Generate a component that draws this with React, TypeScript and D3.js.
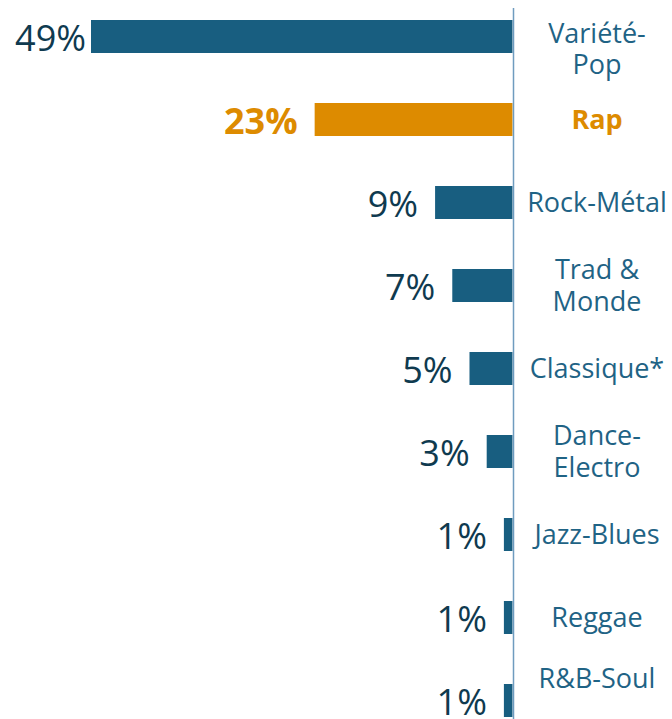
import React from "react";
import * as d3 from "d3";

const categories = [
  "Variété-Pop",
  "Rap",
  "Rock-Métal",
  "Trad & Monde",
  "Classique*",
  "Dance-Electro",
  "Jazz-Blues",
  "Reggae",
  "R&B-Soul",
];
const labelLines = [
  ["Variété-", "Pop"],
  ["Rap"],
  ["Rock-Métal"],
  ["Trad &", "Monde"],
  ["Classique*"],
  ["Dance-", "Electro"],
  ["Jazz-Blues"],
  ["Reggae"],
  ["R&B-Soul"],
];
const values = [49, 23, 9, 7, 5, 3, 1, 1, 1];
const highlighted = ["Rap"];

const W = 672;
const H = 719;
const AXIS_X = 513;
const BAR_H = 33;
const FONT = "'Open Sans', 'DejaVu Sans', sans-serif";

const BLUE = "#185e80";
const ORANGE = "#dd8b00";
const VALUE_TEXT = "#0f3a4f";
const CAT_TEXT = "#1f6385";
const AXIS_COLOR = "#6f9cbf";

export default function App() {
  const x = d3.scaleLinear().domain([0, 49]).range([AXIS_X - 0.5, 91]);
  const y = d3.scalePoint<string>().domain(categories).range([36.5, 700.5]);

  const lineH = 31.5;
  const capH = 18.5;

  return (
    <svg
      width={W}
      height={H}
      style={{ position: "absolute", left: 0, top: 0, background: "#fff" }}
      fontFamily={FONT}
    >
      {categories.map((c, i) => {
        const v = values[i];
        const cy = y(c)!;
        const hl = highlighted.includes(c);
        const color = hl ? ORANGE : BLUE;
        const x0 = x(v);
        const labelEnd = Math.max(x0 - 17, 86);
        const lines = labelLines[i];
        let firstBase = cy - ((lines.length - 1) * lineH) / 2 + capH / 2;
        if (firstBase - capH < 24) firstBase = 24 + capH;
        let lastBase = firstBase + (lines.length - 1) * lineH;
        if (lastBase > 688) {
          firstBase -= lastBase - 688;
          lastBase = 688;
        }
        return (
          <g key={c}>
            <rect
              x={x0}
              y={cy - BAR_H / 2}
              width={x(0) - x0}
              height={BAR_H}
              fill={color}
            />
            <text
              x={labelEnd}
              y={cy + 14}
              textAnchor="end"
              fontSize={36}
              fontWeight={hl ? 700 : 400}
              fill={hl ? ORANGE : VALUE_TEXT}
            >
              {`${v}%`}
            </text>
            <text
              textAnchor="middle"
              fontSize={27}
              fontWeight={hl ? 700 : 400}
              fill={hl ? ORANGE : CAT_TEXT}
            >
              {lines.map((ln, k) => (
                <tspan key={k} x={597} y={firstBase + k * lineH}>
                  {ln}
                </tspan>
              ))}
            </text>
          </g>
        );
      })}
      <line
        x1={AXIS_X + 0.5}
        x2={AXIS_X + 0.5}
        y1={8}
        y2={H}
        stroke={AXIS_COLOR}
        strokeWidth={1.5}
      />
    </svg>
  );
}
